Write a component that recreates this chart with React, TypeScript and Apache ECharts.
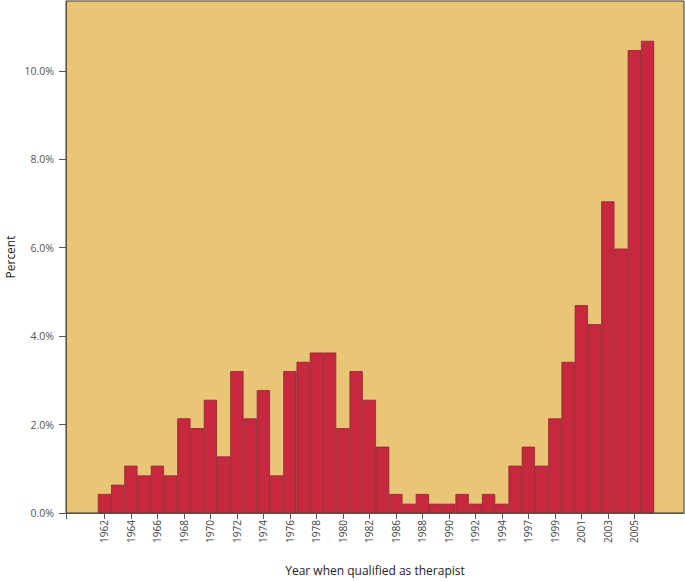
import React, { useEffect, useRef } from "react";
import * as echarts from "echarts";

const years = [
  "1962", "1963", "1964", "1965", "1966", "1967", "1968", "1969", "1970", "1971",
  "1972", "1973", "1974", "1975", "1976", "1977", "1978", "1979", "1980", "1981",
  "1982", "1984", "1986", "1987", "1988", "1989", "1990", "1991", "1992", "1993",
  "1994", "1995", "1997", "1998", "1999", "2000", "2001", "2002", "2003", "2004",
  "2005", "2006",
];
const percents = [
  0.43, 0.64, 1.07, 0.85, 1.07, 0.85, 2.14, 1.92, 2.56, 1.28,
  3.21, 2.14, 2.78, 0.85, 3.21, 3.42, 3.63, 3.63, 1.92, 3.21,
  2.56, 1.5, 0.43, 0.21, 0.43, 0.21, 0.21, 0.43, 0.21, 0.43,
  0.21, 1.07, 1.5, 1.07, 2.14, 3.42, 4.7, 4.27, 7.05, 5.98,
  10.47, 10.68,
];
const labeledIdx = [0, 2, 4, 6, 8, 10, 12, 14, 16, 18, 20, 22, 24, 26, 28, 30, 32, 34, 36, 38, 40];
const yTicks = [0, 2, 4, 6, 8, 10];

export default function App() {
  const ref = useRef<HTMLDivElement>(null);
  useEffect(() => {
    if (!ref.current) return;
    const chart = echarts.init(ref.current, null, { renderer: "svg" });
    const font = "'Open Sans', 'Noto Sans', sans-serif";
    chart.setOption({
      animation: false,
      textStyle: { fontFamily: font },
      grid: {
        left: 66,
        right: 1,
        top: 1,
        bottom: 68,
        show: true,
        backgroundColor: "#E8C676",
        borderColor: "#3a3a2a",
        borderWidth: 1,
        containLabel: false,
        outerBoundsMode: "none",
      },
      xAxis: {
        type: "value",
        min: -2.9,
        max: 43.75,
        name: "Year when qualified as therapist",
        nameLocation: "middle",
        nameGap: 51,
        nameMoveOverlap: false,
        nameTextStyle: { fontSize: 12, color: "#222", fontFamily: font },
        splitLine: { show: false },
        axisLine: { show: true, onZero: false, lineStyle: { color: "#555", width: 1 } },
        axisTick: {
          show: true,
          length: 6,
          lineStyle: { color: "#555" },
          customValues: [-2.9, ...labeledIdx],
        },
        axisLabel: {
          rotate: 90,
          fontSize: 10,
          color: "#444",
          margin: 7,
          fontFamily: font,
          customValues: labeledIdx,
          formatter: (v: number) => years[Math.round(v)] ?? "",
        },
      },
      yAxis: {
        type: "value",
        min: 0,
        max: 11.58,
        interval: 2,
        name: "Percent",
        nameLocation: "middle",
        nameGap: 50,
        nameMoveOverlap: false,
        nameTextStyle: { fontSize: 12, color: "#222", fontFamily: font },
        splitLine: { show: false },
        axisLine: { show: true, onZero: false, lineStyle: { color: "#555", width: 1 } },
        axisTick: {
          show: true,
          length: 7,
          lineStyle: { color: "#555" },
          customValues: yTicks,
        },
        axisLabel: {
          fontSize: 10.5,
          color: "#555",
          margin: 12,
          fontFamily: font,
          customValues: yTicks,
          formatter: (v: number) => v.toFixed(1) + "%",
        },
      },
      series: [
        {
          type: "bar",
          barWidth: 13.25,
          data: percents.map((v, i) => [i, v]),
          itemStyle: {
            color: "#C8283E",
            borderColor: "#8a2432",
            borderWidth: 0.8,
          },
        },
      ],
    });
    return () => chart.dispose();
  }, []);
  return <div ref={ref} style={{ width: 685, height: 581, position: "absolute", left: 0, top: 0 }} />;
}
